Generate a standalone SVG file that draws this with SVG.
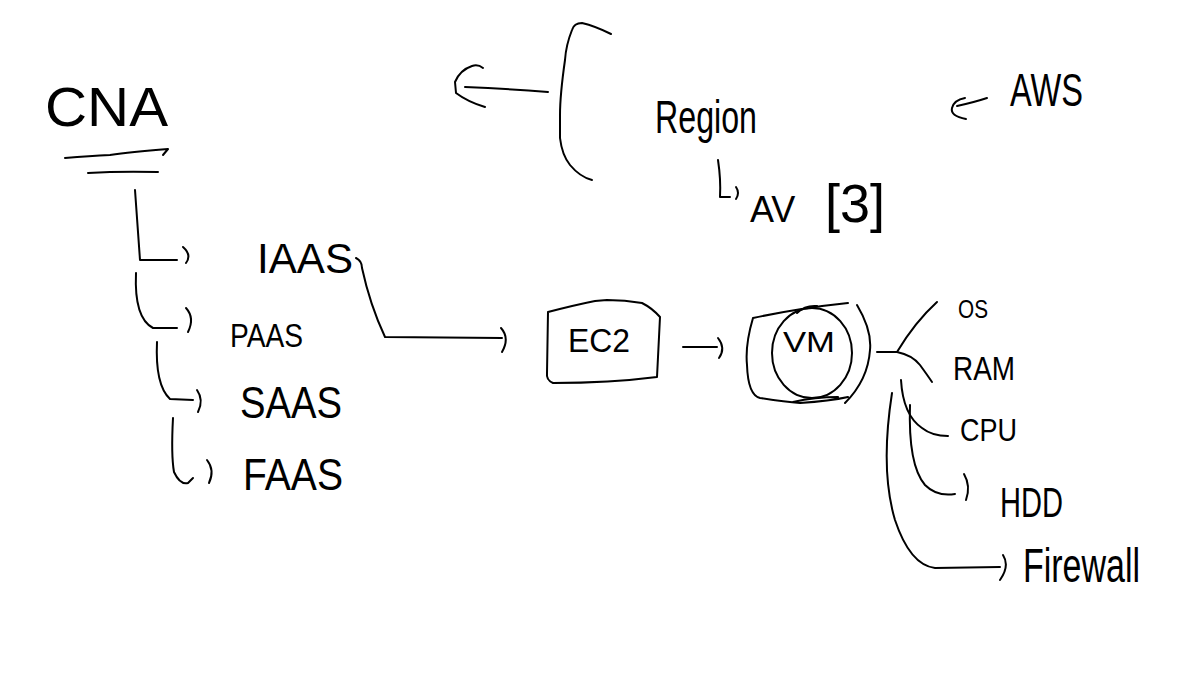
<svg xmlns="http://www.w3.org/2000/svg" width="1190" height="682" viewBox="0 0 1190 682">
<style>
.s{fill:none;stroke:#000;stroke-width:2;stroke-linecap:round;stroke-linejoin:round}
.t{font-family:"Liberation Sans","DejaVu Sans",sans-serif;fill:#000}
</style>
<rect width="1190" height="682" fill="#fff"/>
<g id="cna">
<text class="t" x="45" y="126" font-size="55" textLength="123" lengthAdjust="spacingAndGlyphs">CNA</text>
<path class="s" d="M65 158 Q90 156 110 155 Q130 152 168 149 L163 155 M88 173 Q120 171 158 172"/>
</g>
<g id="iaas"><text class="t" x="257" y="273" font-size="42" textLength="96" lengthAdjust="spacingAndGlyphs">IAAS</text></g>
<g id="paas"><text class="t" x="230" y="347" font-size="34" textLength="73" lengthAdjust="spacingAndGlyphs">PAAS</text></g>
<g id="saas"><text class="t" x="240" y="418" font-size="44" textLength="102" lengthAdjust="spacingAndGlyphs">SAAS</text></g>
<g id="faas"><text class="t" x="243" y="490" font-size="44" textLength="100" lengthAdjust="spacingAndGlyphs">FAAS</text></g>
<g id="region">
<text class="t" x="655" y="133" font-size="46" textLength="102" lengthAdjust="spacingAndGlyphs">Region</text>
<path class="s" d="M611 34 Q595 26 582 23 Q574 23 572 30 Q566 45 565 60 Q560 95 560 115 L560 138 Q562 155 570 165 Q580 177 592 180"/>
</g>
<g id="av"><text class="t" x="750" y="222" font-size="36">AV<tspan x="825" y="222" font-size="54">[3]</tspan></text></g>
<g id="aws"><text class="t" x="1010" y="106" font-size="46" textLength="73" lengthAdjust="spacingAndGlyphs">AWS</text></g>
<g id="ec2">
<path class="s" d="M548 312 Q575 305 595 301 L607 300 Q625 300 642 303 Q652 308 660 317 L657 377 Q610 383 553 383 Q546 380 547 373 Z"/>
<text class="t" x="568" y="352" font-size="33" textLength="62" lengthAdjust="spacingAndGlyphs">EC2</text>
</g>
<g id="vm">
<path class="s" d="M753 318 Q800 308 848 303 M797 313 Q805 305 817 306 M857 305 Q872 330 870 350 Q868 380 845 403 M753 318 Q745 345 747 365 Q748 395 760 398 Q785 402 800 403 Q830 401 848 397 M793 402 Q815 397 838 397"/>
<ellipse class="s" cx="812" cy="353" rx="40" ry="45"/>
<text class="t" x="783" y="352" font-size="30" textLength="52" lengthAdjust="spacingAndGlyphs">VM</text>
</g>
<g id="os"><text class="t" x="958" y="318" font-size="26" textLength="30" lengthAdjust="spacingAndGlyphs">OS</text></g>
<g id="ram"><text class="t" x="953" y="380" font-size="34" textLength="62" lengthAdjust="spacingAndGlyphs">RAM</text></g>
<g id="cpu"><text class="t" x="960" y="441" font-size="32" textLength="57" lengthAdjust="spacingAndGlyphs">CPU</text></g>
<g id="hdd"><text class="t" x="1000" y="517" font-size="42" textLength="63" lengthAdjust="spacingAndGlyphs">HDD</text></g>
<g id="firewall"><text class="t" x="1023" y="582" font-size="48" textLength="117" lengthAdjust="spacingAndGlyphs">Firewall</text></g>
<g id="connectors">
<path class="s" d="M135 190 L140 260 L177 260 M183 247 Q192 255 186 263"/>
<path class="s" d="M136 273 Q134 318 153 328 L177 328 M186 308 Q195 318 188 332"/>
<path class="s" d="M157 342 Q155 385 170 399 L193 400 M197 390 Q204 400 198 412"/>
<path class="s" d="M173 418 Q171 455 174 472 Q180 485 188 483 L193 478 M207 460 Q215 470 209 483"/>
<path class="s" d="M356 258 Q362 261 362 268 Q370 305 385 337 L502 338 M501 328 Q510 338 502 352"/>
<path class="s" d="M683 347 L717 347 M718 338 Q726 348 719 358"/>
<path class="s" d="M877 352 L897 352 Q915 322 937 302 M897 352 Q912 355 920 365 Q928 376 932 382"/>
<path class="s" d="M901 380 Q903 415 922 428 Q932 436 948 436"/>
<path class="s" d="M910 405 Q908 465 925 485 Q937 497 955 494 M964 474 Q971 486 966 500"/>
<path class="s" d="M892 393 Q880 470 895 520 Q910 565 935 568 L1000 567 M1003 555 Q1010 566 1000 580"/>
<path class="s" d="M548 92 Q510 89 465 87 M483 68 Q478 64 472 66 Q460 70 455 82 L456 93 Q468 102 485 107"/>
<path class="s" d="M718 160 Q721 180 720 197 L730 197 M736 187 Q740 193 736 199"/>
<path class="s" d="M957 106 Q975 102 987 98 M965 98 Q954 100 952 108 Q950 116 966 119"/>
</g>
</svg>
